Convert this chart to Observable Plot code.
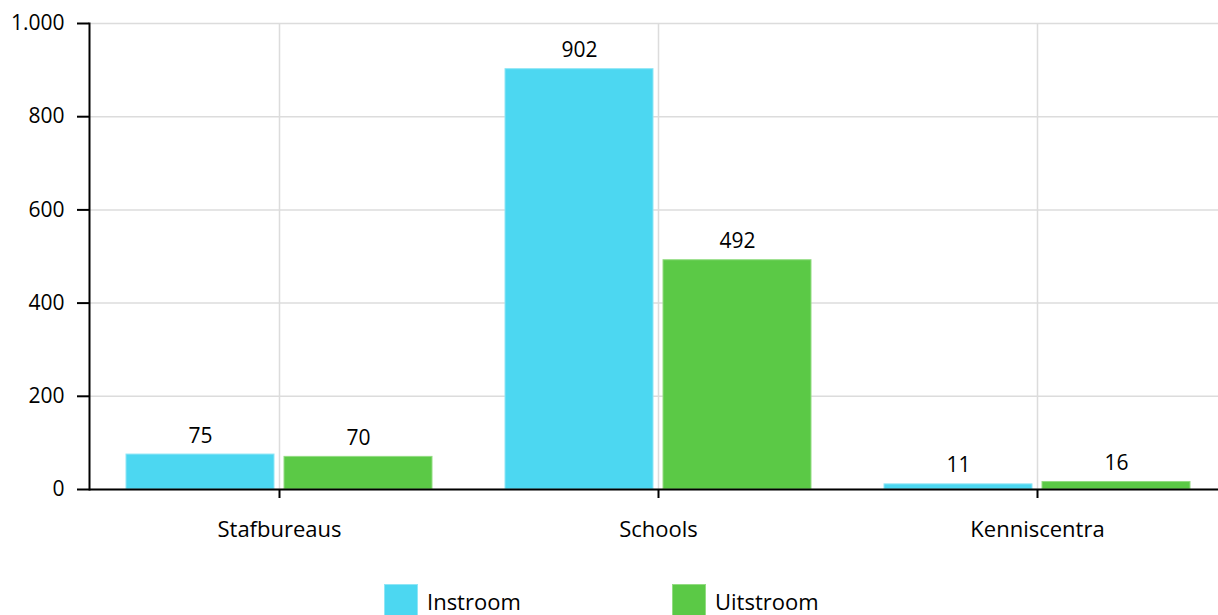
<!DOCTYPE html>
<html>
<head>
<meta charset="utf-8">
<script src="https://cdn.jsdelivr.net/npm/d3@7"></script>
<script src="https://cdn.jsdelivr.net/npm/@observablehq/plot@0.6"></script>
<style>
  html, body { margin: 0; padding: 0; background: #fff; }
  body { font-family: "Open Sans", sans-serif; width: 1218px; overflow: hidden; }
  #legend { display: flex; padding-left: 384px; margin-top: 24px; font-size: 22px; color: #000; }
  .item { display: flex; align-items: center; width: 288px; }
  .sw { width: 34px; height: 34px; margin-right: 9px; box-sizing: border-box; }
</style>
</head>
<body>
<div id="chart"></div>
<div id="legend"></div>
<script>
const categories = ["Stafbureaus", "Schools", "Kenniscentra"];
const seriesNames = ["Instroom", "Uitstroom"];
const instroom = [75, 902, 11];
const uitstroom = [70, 492, 16];
const yTicks = [0, 200, 400, 600, 800, 1000];
const colors = ["#4cd7f1", "#5bc946"];

const inData = categories.map((c, i) => ({category: c, series: "Instroom", value: instroom[i]}));
const outData = categories.map((c, i) => ({category: c, series: "Uitstroom", value: uitstroom[i]}));

const fmt = d => d3.format(",")(d).replace(/,/g, ".");

const chart = Plot.plot({
  width: 1218,
  height: 560,
  marginTop: 23,
  marginBottom: 71,
  marginLeft: 89,
  marginRight: 0,
  style: {fontFamily: "'Open Sans', sans-serif", fontSize: "20px", color: "#000", background: "#fff", overflow: "hidden"},
  x: {domain: categories, range: [89.5, 1226.5], paddingInner: 0.1926, paddingOuter: 0.0963, label: null},
  y: {domain: [0, 1000], label: null},
  marks: [
    Plot.gridY(yTicks, {stroke: "#dcdcdc", strokeOpacity: 1, strokeWidth: 1.5}),
    Plot.gridX({stroke: "#dcdcdc", strokeOpacity: 1, strokeWidth: 1.5}),
    Plot.barY(inData, {x: "category", y: "value", fill: colors[0], stroke: "#8fe6f6", strokeWidth: 1, insetRight: 158}),
    Plot.barY(outData, {x: "category", y: "value", fill: colors[1], stroke: "#93dc82", strokeWidth: 1, insetLeft: 158}),
    Plot.text(inData, {x: "category", y: "value", text: d => String(d.value), dx: -79, dy: -12, lineAnchor: "bottom", fontSize: 21, fill: "#000"}),
    Plot.text(outData, {x: "category", y: "value", text: d => String(d.value), dx: 79, dy: -12, lineAnchor: "bottom", fontSize: 21, fill: "#000"}),
    Plot.ruleY([0], {stroke: "#000", strokeWidth: 2}),
    Plot.frame({anchor: "left", stroke: "#000", strokeWidth: 2}),
    Plot.axisY(yTicks, {tickSize: 12, tickPadding: 13, tickFormat: fmt, stroke: "#000", strokeWidth: 2, fontSize: 21, label: null}),
    Plot.axisX({tickSize: 9, tickPadding: 22.5, stroke: "#000", strokeWidth: 2, fontSize: 22, label: null})
  ]
});
document.getElementById("chart").appendChild(chart);

const legend = document.getElementById("legend");
seriesNames.forEach((s, i) => {
  const item = document.createElement("div");
  item.className = "item";
  const sw = document.createElement("div");
  sw.className = "sw";
  sw.style.background = colors[i];
  sw.style.border = "1px solid " + (i === 0 ? "#8fe6f6" : "#93dc82");
  const t = document.createElement("span");
  t.textContent = s;
  item.appendChild(sw);
  item.appendChild(t);
  legend.appendChild(item);
});
</script>
</body>
</html>
